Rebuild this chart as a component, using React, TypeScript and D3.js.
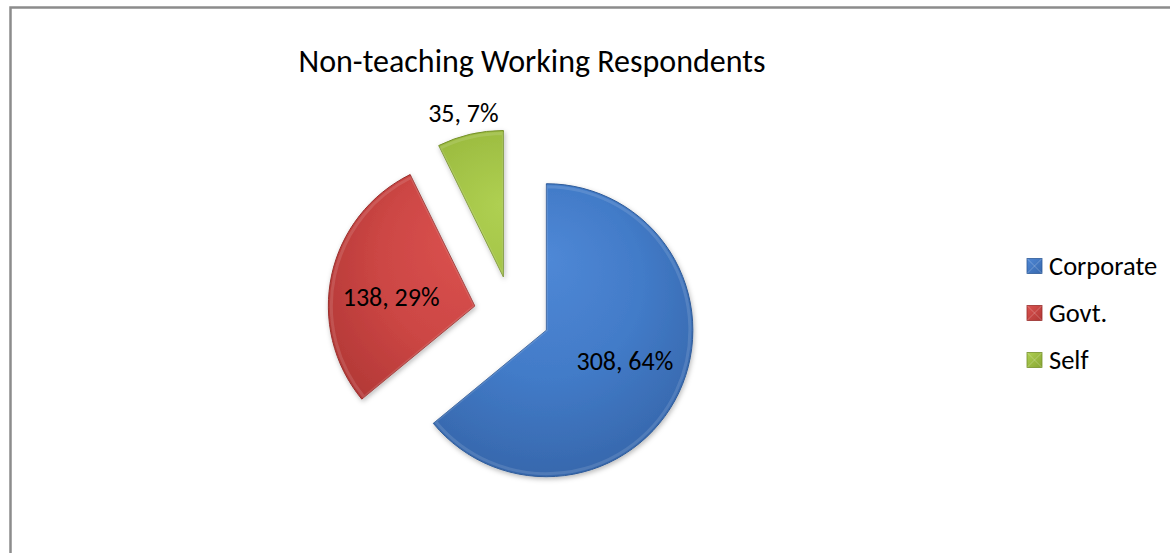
import React from "react";
import * as d3 from "d3";

const categories = ["Corporate", "Govt.", "Self"];
const values = [308, 138, 35];
const percentLabels = ["64%", "29%", "7%"];
const title = "Non-teaching Working Respondents";

const W = 1170;
const H = 553;
const FONT = "Carlito, Calibri, 'Open Sans', sans-serif";

const palette = [
  { light: "#4f88d6", mid: "#427bc8", dark: "#3768ad", edge: "#2f5b98" },
  { light: "#dc5350", mid: "#cc4644", dark: "#b03735", edge: "#982e2c" },
  { light: "#afd052", mid: "#9dbd41", dark: "#87a532", edge: "#76912b" },
];

export default function App() {
  const cx = 512;
  const cy = 314;
  const r = 146.5;
  const explode = 38;

  const pie = d3
    .pie<number>()
    .sort(null)
    .value((d) => d)
    .startAngle(0)
    .endAngle(2 * Math.PI);
  const arcs = pie(values);
  const arcGen = d3.arc<d3.PieArcDatum<number>>().innerRadius(0).outerRadius(r);
  const innerGen = d3.arc<d3.PieArcDatum<number>>().innerRadius(0).outerRadius(r - 3);

  // label placement: inside labels slightly rotated, the small slice labelled outside
  const labelFactor = [0.575, 0.575, 1.155];
  const labelTurn = [-0.07, -0.1, -0.01];

  return (
    <svg
      width={W}
      height={H}
      style={{ position: "absolute", left: 0, top: 0, background: "#fff" }}
    >
      <defs>
        {palette.map((p, i) => (
          <radialGradient
            key={i}
            id={`g${i}`}
            gradientUnits="userSpaceOnUse"
            cx={0}
            cy={-r * 0.2}
            r={r * 1.2}
            fx={0}
            fy={-r * 0.5}
          >
            <stop offset="0%" stopColor={p.light} />
            <stop offset="55%" stopColor={p.mid} />
            <stop offset="100%" stopColor={p.dark} />
          </radialGradient>
        ))}
        {palette.map((p, i) => (
          <linearGradient key={`l${i}`} id={`lg${i}`} x1="0" y1="0" x2="1" y2="1">
            <stop offset="0%" stopColor={p.light} />
            <stop offset="100%" stopColor={p.dark} />
          </linearGradient>
        ))}
        <filter id="shadow" x="-20%" y="-20%" width="140%" height="140%">
          <feDropShadow dx="1" dy="2" stdDeviation="2.5" floodColor="#000" floodOpacity="0.28" />
        </filter>
      </defs>

      {/* chart area border */}
      <rect x={10.5} y={7.5} width={W + 20} height={H + 20} fill="#fff" stroke="#8c8c8c" strokeWidth={2.5} />

      <text
        x={532}
        y={72}
        textAnchor="middle"
        fontFamily={FONT}
        fontSize={32}
        fill="#000"
      >
        {title}
      </text>

      {arcs.map((a, i) => {
        const mid = (a.startAngle + a.endAngle) / 2;
        const ox = Math.sin(mid) * explode;
        const oy = -Math.cos(mid) * explode;
        return (
          <g key={i} transform={`translate(${cx + ox},${cy + oy})`}>
            <path
              d={arcGen(a) || ""}
              fill={`url(#g${i})`}
              stroke={palette[i].edge}
              strokeWidth={1}
              strokeLinejoin="round"
              filter="url(#shadow)"
            />
            <path
              d={innerGen(a) || ""}
              fill="none"
              stroke="#ffffff"
              strokeOpacity={0.12}
              strokeWidth={3}
              strokeLinejoin="round"
            />
          </g>
        );
      })}

      {arcs.map((a, i) => {
        const mid = (a.startAngle + a.endAngle) / 2;
        const ox = Math.sin(mid) * explode;
        const oy = -Math.cos(mid) * explode;
        const lr = r * labelFactor[i];
        const la = mid + labelTurn[i];
        const lx = cx + ox + Math.sin(la) * lr;
        const ly = cy + oy - Math.cos(la) * lr;
        return (
          <text
            key={`t${i}`}
            x={lx}
            y={ly}
            textAnchor="middle"
            dominantBaseline="central"
            fontFamily={FONT}
            fontSize={26}
            fill="#000"
          >
            {`${values[i]}, ${percentLabels[i]}`}
          </text>
        );
      })}

      {categories.map((c, i) => {
        const y = 266 + i * 47;
        return (
          <g key={`lg${i}`} transform={`translate(1027,${y})`}>
            <rect x={0} y={-7.5} width={15} height={15} fill={`url(#lg${i})`} stroke={palette[i].edge} strokeWidth={0.8} />
            <path d="M0,-7.5 L7.5,0 L15,-7.5 M0,7.5 L7.5,0 L15,7.5" stroke="#ffffff" strokeOpacity={0.3} strokeWidth={0.8} fill="none" />
            <text
              x={22}
              y={0}
              dominantBaseline="central"
              fontFamily={FONT}
              fontSize={26.5}
              fill="#000"
            >
              {c}
            </text>
          </g>
        );
      })}
    </svg>
  );
}
